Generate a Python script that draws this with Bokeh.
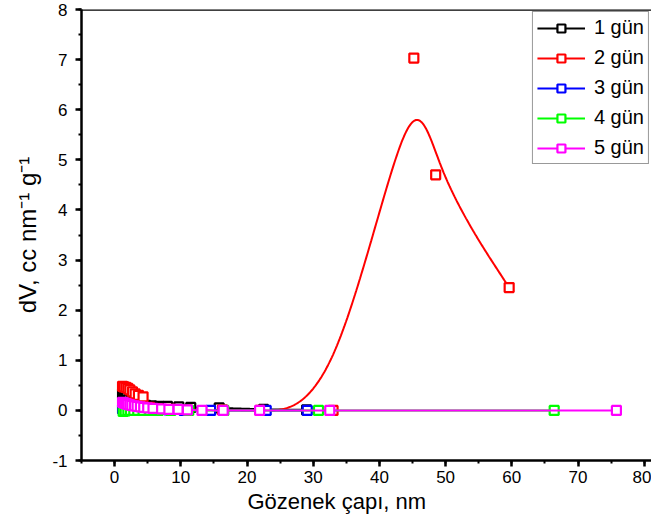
import numpy as np
from bokeh.plotting import figure
from bokeh.models import Range1d, Span, Legend, LegendItem, SingleIntervalTicker, PrintfTickFormatter, Title
from bokeh.embed import file_html
from bokeh.resources import INLINE

# ---------------- data ----------------
series_labels = ["1 gün", "2 gün", "3 gün", "4 gün", "5 gün"]
series_colors = ["#000000", "#ff0000", "#0000ff", "#00ff00", "#ff00ff"]

x1 = [1.2, 1.5, 1.8, 2.1, 2.5, 2.9, 3.4, 4.0, 4.7, 5.6, 6.7, 8.0, 9.7, 11.5, 15.8, 22.5, 29.0]
y1 = [0.33, 0.29, 0.25, 0.21, 0.18, 0.15, 0.13, 0.11, 0.10, 0.09, 0.08, 0.08, 0.07, 0.06, 0.05, 0.02, 0.01]

x2 = [1.2, 1.4, 1.7, 2.0, 2.3, 2.7, 3.1, 3.6, 4.3, 5.3, 6.6, 8.5, 11.0, 16.3, 22.0, 33.0, 45.2, 48.5, 59.6]
y2 = [0.48, 0.47, 0.46, 0.44, 0.41, 0.37, 0.33, 0.30, 0.27, 0.06, 0.03, 0.02, 0.01, 0.01, 0.0, 0.0, 7.03, 4.70, 2.45]

x3 = [1.2, 1.5, 1.8, 2.2, 2.6, 3.1, 3.7, 4.4, 5.3, 6.5, 8.2, 10.5, 14.5, 22.9, 29.1]
y3 = [0.03, 0.03, 0.02, 0.02, 0.02, 0.02, 0.01, 0.01, 0.01, 0.01, 0.01, 0.0, 0.0, 0.0, 0.0]

x4 = [1.3, 1.6, 2.0, 2.4, 2.9, 3.5, 4.3, 5.3, 6.6, 8.5, 11.2, 16.5, 30.8, 66.4]
y4 = [-0.02, -0.01, 0.0, 0.0, 0.0, 0.0, 0.0, 0.0, 0.0, 0.0, 0.0, 0.0, 0.0, 0.0]

x5 = [1.2, 1.4, 1.6, 1.8, 2.0, 2.3, 2.6, 3.0, 3.4, 3.9, 4.4, 5.0, 5.8, 7.1, 8.2, 9.6, 11.0, 13.2, 16.4, 21.9, 32.5, 75.8]
y5 = [0.16, 0.15, 0.14, 0.13, 0.12, 0.11, 0.10, 0.09, 0.08, 0.07, 0.06, 0.05, 0.04, 0.03, 0.02, 0.02, 0.01, 0.0, 0.0, 0.0, 0.0, 0.0]

xs_all = [x1, x2, x3, x4, x5]
ys_all = [y1, y2, y3, y4, y5]

x_ticks_interval = 10
y_ticks_interval = 1


def bspline(xs, ys, per_seg=60):
    """Uniform cubic B-spline; end points tripled so the curve ends on them."""
    P = np.column_stack([xs, ys]).astype(float)
    P = np.vstack([P[:1], P[:1], P, P[-1:], P[-1:]])
    t = np.linspace(0, 1, per_seg, endpoint=False)
    b0 = (1 - t) ** 3 / 6
    b1 = (3 * t ** 3 - 6 * t ** 2 + 4) / 6
    b2 = (-3 * t ** 3 + 3 * t ** 2 + 3 * t + 1) / 6
    b3 = t ** 3 / 6
    out = []
    for i in range(len(P) - 3):
        seg = (np.outer(b0, P[i]) + np.outer(b1, P[i + 1]) +
               np.outer(b2, P[i + 2]) + np.outer(b3, P[i + 3]))
        out.append(seg)
    out.append(P[-1:])
    C = np.vstack(out)
    return C[:, 0], C[:, 1]


p = figure(width=651, height=523, output_backend="svg", toolbar_location=None,
           x_range=Range1d(-5, 81.1), y_range=Range1d(-1, 8),
           min_border_left=81, min_border_right=0, min_border_top=9, min_border_bottom=63)
p.xgrid.visible = False
p.ygrid.visible = False
p.outline_line_color = None

font = "Liberation Sans"
for ax in (p.xaxis[0], p.yaxis[0]):
    ax.axis_line_width = 2.5
    ax.major_tick_line_width = 2.5
    ax.minor_tick_line_width = 2
    ax.major_tick_out = 6
    ax.major_tick_in = 0
    ax.minor_tick_out = 3
    ax.minor_tick_in = 0
    ax.major_label_text_font = font
    ax.major_label_text_font_size = "17px"
    ax.major_label_text_color = "black"
    ax.axis_label_text_font = font
    ax.axis_label_text_font_style = "normal"
    ax.axis_label_text_color = "black"
    ax.formatter = PrintfTickFormatter(format="%d")

p.xaxis.ticker = SingleIntervalTicker(interval=x_ticks_interval, num_minor_ticks=2)
p.yaxis.ticker = SingleIntervalTicker(interval=y_ticks_interval, num_minor_ticks=2)
p.yaxis.axis_label = "dV, cc nm⁻¹ g⁻¹"
p.yaxis.axis_label_text_font_size = "24px"
p.xaxis.major_label_standoff = 4
p.yaxis.major_label_standoff = 8
p.yaxis.axis_label_standoff = 8

# x-axis title, placed left of the frame centre as in the original
xtitle = Title(text="Gözenek çapı, nm", align="left", offset=166, text_font=font,
               text_font_size="22px", text_font_style="normal", text_color="black",
               standoff=3)
p.add_layout(xtitle, "below")

p.add_layout(Span(location=8, dimension="width", line_color="black", line_width=2.5))

items = []
for xs, ys, lab, col in zip(xs_all, ys_all, series_labels, series_colors):
    cx, cy = bspline(xs, ys)
    lr = p.line(cx, cy, line_color=col, line_width=2)
    sr = p.scatter(xs, ys, marker="square", size=9, fill_color="white",
                   line_color=col, line_width=2.2)
    items.append(LegendItem(label=lab, renderers=[lr, sr]))

legend = Legend(items=items, location="top_right")
legend.margin = 2
legend.padding = 4
legend.spacing = 7
legend.glyph_width = 48
legend.glyph_height = 20
legend.label_height = 20
legend.label_standoff = 9
legend.label_text_font = font
legend.label_text_font_size = "20px"
legend.label_text_color = "black"
legend.border_line_color = "#333333"
legend.border_line_width = 1
legend.background_fill_alpha = 1
p.add_layout(legend)

open("out.html", "w").write(file_html(p, INLINE))
